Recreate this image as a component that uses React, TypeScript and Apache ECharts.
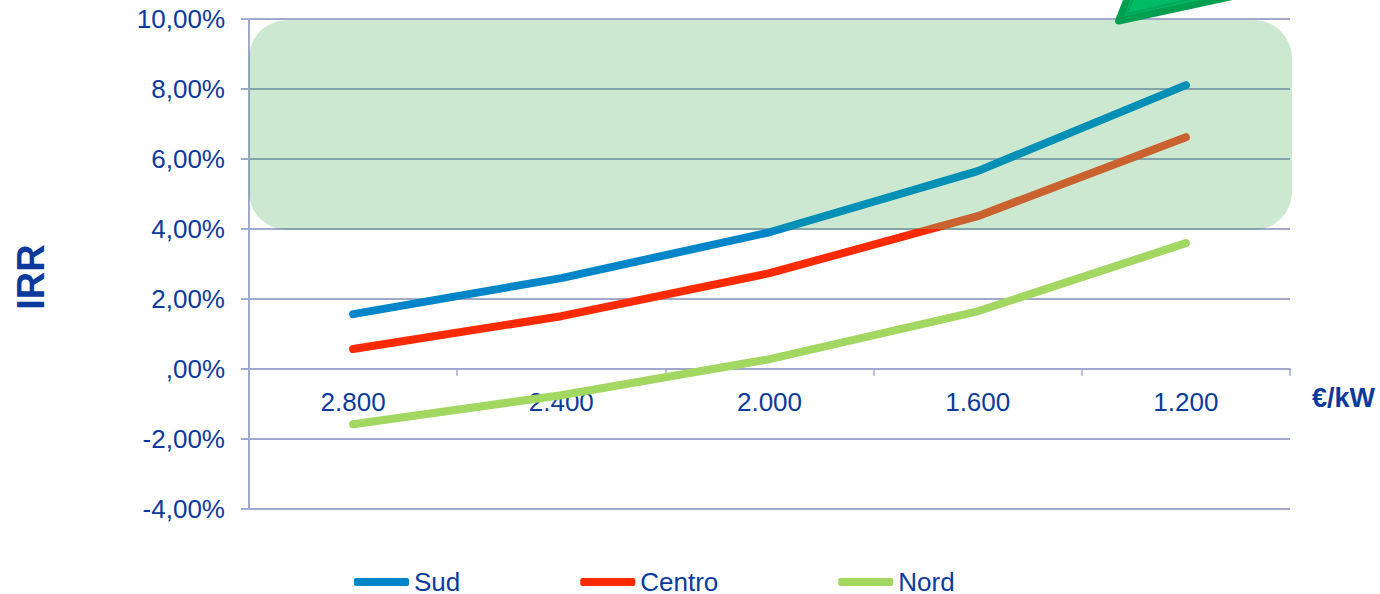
import React, { useEffect, useRef } from "react";
import * as echarts from "echarts";

const priceLabels = ["2.800", "2.400", "2.000", "1.600", "1.200"];
const sud = [1.56, 2.59, 3.9, 5.65, 8.11];
const centro = [0.56, 1.5, 2.73, 4.36, 6.62];
const nord = [-1.59, -0.76, 0.27, 1.64, 3.59];

const axisMin = -4;
const axisMax = 10;
const bandFloor = 4;

const FONT = '"Liberation Sans", Arial, sans-serif';
const INK = "#0b3a9c";
const RULE = "#a0a8cc";

const percentLabel = (v: number) =>
  v === 0 ? ",00%" : v.toFixed(2).replace(".", ",") + "%";

const regionSeries = (name: string, data: number[], color: string) => ({
  name,
  type: "line",
  data,
  showSymbol: false,
  symbol: "none",
  itemStyle: { color },
  lineStyle: { width: 8, cap: "round", join: "round" },
  z: 3,
});

// Lines change hue where they enter the shaded band.
const bandTint = (seriesIndex: number, below: string, inside: string) => ({
  type: "piecewise",
  show: false,
  seriesIndex,
  dimension: 1,
  pieces: [
    { min: axisMin, max: bandFloor, color: below },
    { min: bandFloor, max: axisMax, color: inside },
  ],
});

export default function App() {
  const ref = useRef<HTMLDivElement>(null);

  useEffect(() => {
    const chart = echarts.init(ref.current!, undefined, { renderer: "svg" });
    chart.setOption({
      animation: false,
      backgroundColor: "#ffffff",
      grid: { left: 249, right: 90, top: 19, height: 489.5, containLabel: false },
      legend: {
        left: 349,
        top: 564,
        icon: "roundRect",
        itemWidth: 55,
        itemHeight: 8,
        itemGap: 120,
        selectedMode: false,
        textStyle: { fontFamily: FONT, fontSize: 26, lineHeight: 20, color: INK },
        data: ["Sud", "Centro", "Nord"],
      },
      visualMap: [
        bandTint(0, "#0085c8", "#0090b5"),
        bandTint(1, "#ff2a00", "#c9622e"),
      ],
      xAxis: {
        type: "category",
        data: priceLabels,
        boundaryGap: true,
        position: "bottom",
        // lifts the axis from the grid's lower edge up to the 0% rule
        offset: -139.8,
        axisLine: { onZero: false, lineStyle: { color: RULE, width: 2 } },
        axisTick: { show: true, length: 7, lineStyle: { color: RULE, width: 1.5 } },
        axisLabel: { fontFamily: FONT, fontSize: 26, color: INK, margin: 20 },
        splitLine: { show: false },
      },
      yAxis: {
        type: "value",
        min: axisMin,
        max: axisMax,
        interval: 2,
        axisLine: { show: true, onZero: false, lineStyle: { color: RULE, width: 2 } },
        axisTick: { show: true, length: 8, lineStyle: { color: RULE, width: 2 } },
        axisLabel: {
          fontFamily: FONT,
          fontSize: 26,
          color: INK,
          margin: 24,
          padding: [2, 0, 0, 0],
          formatter: percentLabel,
        },
        splitLine: { show: true, lineStyle: { color: RULE, width: 2 } },
      },
      series: [
        regionSeries("Sud", sud, "#0085c8"),
        regionSeries("Centro", centro, "#ff2a00"),
        regionSeries("Nord", nord, "#a2d762"),
      ],
      graphic: [
        {
          type: "text",
          x: 31,
          y: 277,
          rotation: Math.PI / 2,
          style: {
            text: "IRR",
            fontFamily: FONT,
            fontSize: 38,
            fontWeight: "bold",
            fill: INK,
            align: "center",
            verticalAlign: "middle",
          },
        },
        {
          type: "text",
          x: 1312,
          y: 398,
          style: {
            text: "€/kW",
            fontFamily: FONT,
            fontSize: 27,
            fontWeight: "bold",
            fill: INK,
            align: "left",
            verticalAlign: "middle",
          },
        },
        {
          // shaded band, above the rules and below the lines
          type: "rect",
          z: 1,
          shape: { x: 249, y: 20, width: 1043, height: 210, r: 38 },
          style: { fill: "rgba(27,150,45,0.22)" },
        },
        {
          // callout arrow running off the top edge
          type: "polygon",
          z: 21,
          shape: { points: [[1118.5, 21], [1129, -6], [1244, -6]] },
          style: { fill: "#00bb63", stroke: "#009f50", lineWidth: 7, lineJoin: "round" },
        },
        {
          type: "polyline",
          z: 22,
          shape: { points: [[1133, -1], [1127, 14], [1200, -3]] },
          style: { fill: "none", stroke: "#00a65a", lineWidth: 2 },
        },
      ],
    });
    return () => chart.dispose();
  }, []);

  return (
    <div
      ref={ref}
      style={{ position: "fixed", left: 0, top: 0, width: 1380, height: 594 }}
    />
  );
}
